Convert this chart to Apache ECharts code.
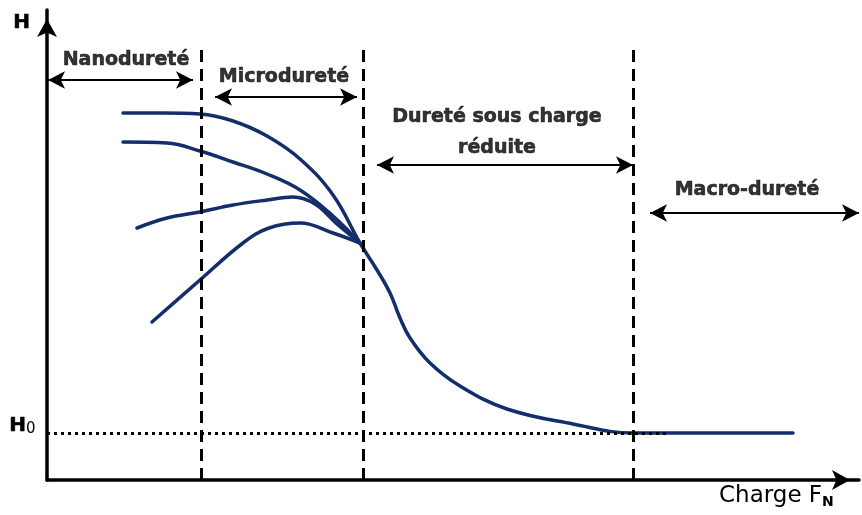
<!DOCTYPE html>
<html>
<head>
<meta charset="utf-8">
<script src="https://cdn.jsdelivr.net/npm/echarts@6/dist/echarts.min.js"></script>
<style>
  html, body { margin: 0; padding: 0; background: #fff; }
  #chart { width: 862px; height: 515px; }
</style>
</head>
<body>
<div id="chart"></div>
<script>
// Hardness H versus normal load F_N (schematic units on both axes)
const loadMax = 812;
const hardnessMax = 470;
const hardnessH0 = 47;

// Limits between the measurement domains (load units)
const domainLimits = [154, 316, 586];
const domainLimitTop = 435;

// Domain names, the load span each arrow covers, arrow level and label anchor
const domainNames = ['Nanodureté', 'Microdureté', 'Dureté sous charge\nréduite', 'Macro-dureté'];
const domainSpans = [[1, 146], [168, 310], [330, 586], [603, 812]];
const domainArrowLevels = [400, 383, 315, 267];
const domainLabelAnchors = [[79, 420], [237, 403], [450, 347], [700, 290]];

// H(F_N) curves: one full curve, three others joining it near the micro/low-load limit
const curveFlat = [[76, 367], [115, 367], [153, 366], [186, 359], [220, 344], [253, 321], [286, 285],
  [313, 237], [330, 210], [343, 187], [353, 162], [363, 142], [383, 117], [413, 94],
  [460, 71], [526, 56], [586, 47], [650, 47], [746, 47]];
const curveSlowDecrease = [[76, 338], [120, 337], [153, 329], [186, 318], [220, 306], [253, 290], [286, 264], [313, 237]];
const curveSlightRise = [[90, 252], [120, 262], [153, 268], [186, 275], [220, 280], [246, 283], [268, 276], [290, 256], [313, 237]];
const curveStrongRise = [[105, 158], [153, 200], [196, 237], [222, 252], [253, 257], [286, 247], [313, 237]];

const H0_END = 620;
const curveColor = '#132e6b';
const textFont = 'DejaVu Sans';

const chart = echarts.init(document.getElementById('chart'), null, { renderer: 'canvas' });

function curveSeries(data) {
  return {
    type: 'line', data: data, smooth: 0.4, showSymbol: false, silent: true, z: 3,
    lineStyle: { color: curveColor, width: 3.5, cap: 'round' }
  };
}

const dashedLimits = domainLimits.map(x => [
  { coord: [x, 0] }, { coord: [x, domainLimitTop] }
]);

const domainArrows = domainSpans.map((s, i) => [
  { coord: [s[0], domainArrowLevels[i]] }, { coord: [s[1], domainArrowLevels[i]] }
]);

const mainCurve = curveSeries(curveFlat);
mainCurve.markLine = {
  silent: true, symbol: 'none', z: 4,
  label: { show: false },
  lineStyle: { color: '#000', width: 3, type: [12, 7] },
  data: dashedLimits.concat([[
    { coord: [0, hardnessH0], lineStyle: { type: [3, 4], width: 3 } },
    { coord: [H0_END, hardnessH0] }
  ]])
};

const option = {
  backgroundColor: '#ffffff',
  animation: false,
  grid: { left: 47, right: 3, top: 10, bottom: 35 },
  xAxis: {
    type: 'value', min: 0, max: loadMax,
    splitLine: { show: false }, axisTick: { show: false }, axisLabel: { show: false },
    axisLine: { show: true, onZero: false, symbol: ['none', 'arrow'], symbolSize: [15, 18], symbolOffset: [0, -9],
      lineStyle: { color: '#000', width: 3.5 } }
  },
  yAxis: {
    type: 'value', min: 0, max: hardnessMax,
    splitLine: { show: false }, axisTick: { show: false }, axisLabel: { show: false },
    axisLine: { show: true, onZero: false, symbol: ['none', 'arrow'], symbolSize: [15, 18], symbolOffset: [0, -9],
      lineStyle: { color: '#000', width: 3.5 } }
  },
  series: [
    curveSeries(curveSlowDecrease),
    curveSeries(curveSlightRise),
    curveSeries(curveStrongRise),
    mainCurve,
    {
      type: 'line', data: [], silent: true,
      markLine: {
        silent: true, symbol: ['arrow', 'arrow'], symbolSize: [13, 17], z: 5,
        label: { show: false },
        lineStyle: { color: '#000', width: 2, type: 'solid' },
        data: domainArrows
      }
    },
    {
      type: 'scatter', symbolSize: 0, silent: true, z: 6,
      data: domainNames.map((n, i) => ({ value: domainLabelAnchors[i], name: n })),
      label: {
        show: true, position: 'inside', formatter: p => p.name,
        color: '#000', textBorderColor: '#000', textBorderWidth: 0.6,
        fontFamily: textFont, fontWeight: 'bold', fontSize: 19, lineHeight: 31, align: 'center'
      }
    }
  ],
  graphic: [
    { type: 'text', left: 13, top: 12, style: { text: 'H', fill: '#000', stroke: '#000', lineWidth: 0.6,
      fontFamily: textFont, fontWeight: 'bold', fontSize: 20 } },
    { type: 'text', left: 9, top: 415, style: {
      text: '{h|H}{s|0}', rich: {
        h: { fill: '#000', stroke: '#000', lineWidth: 0.6, fontFamily: textFont, fontWeight: 'bold', fontSize: 20 },
        s: { fill: '#000', fontFamily: textFont, fontSize: 15, padding: [8, 0, 0, 0] }
      } } },
    { type: 'text', left: 719, top: 485, style: {
      text: '{c|Charge F}{s|N}', rich: {
        c: { fill: '#000', fontFamily: textFont, fontSize: 23 },
        s: { fill: '#000', fontFamily: textFont, fontWeight: 'bold', fontSize: 14, padding: [11, 0, 0, 0] }
      } } }
  ]
};

chart.setOption(option);
</script>
</body>
</html>
